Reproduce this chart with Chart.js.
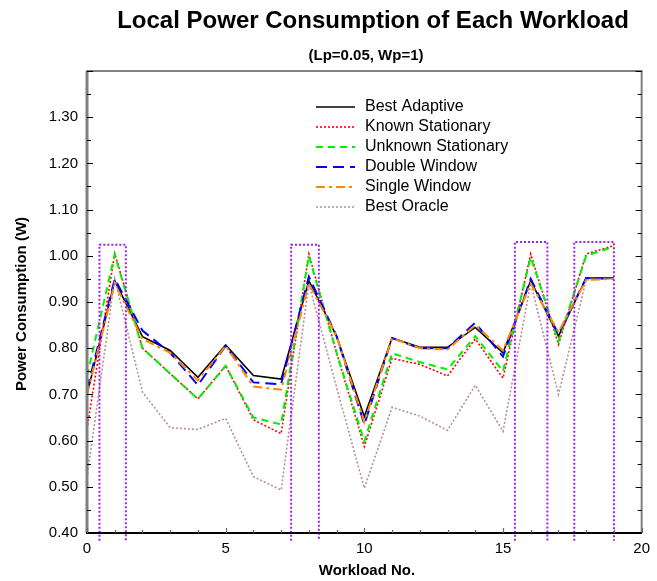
<!DOCTYPE html>
<html>
<head>
<meta charset="utf-8">
<script src="https://cdn.jsdelivr.net/npm/chart.js@4.4.0/dist/chart.umd.min.js"></script>
<style>
    body { margin: 0; background: #fff; }
</style>
</head>
<body>
<canvas id="grafico" width="657" height="581"></canvas>
<script>
// datos
var workloads = [0, 1, 2, 3, 4, 5, 6, 7, 8, 9, 10, 11, 12, 13, 14, 15, 16, 17, 18, 19];
var bestAdaptive = [0.70, 0.946, 0.825, 0.795, 0.737, 0.807, 0.741, 0.733, 0.946, 0.826, 0.652, 0.822, 0.802, 0.802, 0.845, 0.790, 0.946, 0.826, 0.952, 0.952];
var knownStationary = [0.625, 1.005, 0.800, 0.745, 0.690, 0.762, 0.645, 0.615, 1.004, 0.790, 0.587, 0.778, 0.765, 0.740, 0.820, 0.735, 1.004, 0.808, 1.004, 1.022];
var unknownStationary = [0.740, 1.003, 0.800, 0.745, 0.690, 0.762, 0.650, 0.635, 1.000, 0.790, 0.598, 0.789, 0.770, 0.754, 0.826, 0.750, 0.997, 0.815, 1.000, 1.020];
var doubleWindow = [0.710, 0.950, 0.838, 0.790, 0.720, 0.805, 0.726, 0.722, 0.955, 0.826, 0.635, 0.822, 0.800, 0.800, 0.855, 0.782, 0.950, 0.830, 0.952, 0.950];
var singleWindow = [0.700, 0.940, 0.820, 0.790, 0.730, 0.805, 0.717, 0.710, 0.940, 0.826, 0.640, 0.822, 0.800, 0.797, 0.850, 0.795, 0.940, 0.835, 0.948, 0.950];
var bestOracle = [0.520, 0.950, 0.705, 0.628, 0.624, 0.648, 0.522, 0.493, 0.940, 0.715, 0.497, 0.672, 0.653, 0.622, 0.720, 0.620, 0.940, 0.700, 0.948, 0.950];

// cajas punteadas (unidades del grafico)
var boxLeft = [0.45, 7.36, 15.43, 17.57];
var boxRight = [1.40, 8.36, 16.60, 19.00];
var boxTop = [1.024, 1.024, 1.030, 1.030];
var boxBottom = 0.383;

var yTicks = [0.40, 0.50, 0.60, 0.70, 0.80, 0.90, 1.00, 1.10, 1.20, 1.30];
var xTicks = [0, 5, 10, 15, 20];

function puntos(serie) {
    return workloads.map(function (w, i) { return { x: w, y: serie[i] }; });
}

var series = [
    { label: 'Best Adaptive', data: bestAdaptive, color: '#000000', dash: [], width: 1.6, order: 7 },
    { label: 'Known Stationary', data: knownStationary, color: '#ff0000', dash: [2, 2], width: 1.6, order: 6 },
    { label: 'Unknown Stationary', data: unknownStationary, color: '#00ee00', dash: [7, 5], width: 2, order: 5 },
    { label: 'Double Window', data: doubleWindow, color: '#0000ff', dash: [11, 6], width: 2, order: 4 },
    { label: 'Single Window', data: singleWindow, color: '#ff8800', dash: [9, 4, 3, 4], width: 2, order: 3 },
    { label: 'Best Oracle', data: bestOracle, color: '#bc8f8f', dash: [2, 2], width: 1.6, order: 2 }
];

var datasets = series.map(function (s) {
    return {
        label: s.label,
        data: puntos(s.data),
        borderColor: s.color,
        borderDash: s.dash,
        borderWidth: s.width,
        pointRadius: 0,
        tension: 0,
        fill: false,
        order: s.order,
        esSerie: true
    };
});

boxLeft.forEach(function (l, i) {
    datasets.push({
        label: 'box' + i,
        data: [
            { x: l, y: boxBottom },
            { x: l, y: boxTop[i] },
            { x: boxRight[i], y: boxTop[i] },
            { x: boxRight[i], y: boxBottom }
        ],
        borderColor: '#a020f0',
        borderDash: [2, 2],
        borderWidth: 2,
        pointRadius: 0,
        tension: 0,
        fill: false,
        clip: false,
        order: 1
    });
});

var decor = {
    id: 'decor',
    afterDraw: function (chart) {
        var ctx = chart.ctx;
        var a = chart.chartArea;
        var xs = chart.scales.x, ys = chart.scales.y;
        ctx.save();

        // marco
        ctx.setLineDash([]);
        ctx.strokeStyle = '#808080';
        ctx.lineWidth = 2;
        ctx.beginPath();
        ctx.moveTo(a.left, a.bottom);
        ctx.lineTo(a.left, a.top);
        ctx.lineTo(a.right, a.top);
        ctx.lineTo(a.right, a.bottom);
        ctx.stroke();
        ctx.lineWidth = 3;
        ctx.beginPath();
        ctx.moveTo(a.left, a.bottom);
        ctx.lineTo(a.left, a.top);
        ctx.stroke();
        ctx.strokeStyle = '#000';
        ctx.lineWidth = 2;
        ctx.beginPath();
        ctx.moveTo(a.left - 1, a.bottom);
        ctx.lineTo(a.right, a.bottom);
        ctx.stroke();

        // marcas hacia adentro
        ctx.lineWidth = 1.2;
        ctx.strokeStyle = '#000';
        for (var v = 0.40; v <= 1.401; v += 0.05) {
            var py = Math.round(ys.getPixelForValue(v)) + 0.5;
            var mayor = Math.abs(v * 10 - Math.round(v * 10)) < 0.01;
            var len = mayor ? 6 : 4;
            ctx.beginPath();
            ctx.moveTo(a.left, py); ctx.lineTo(a.left + len, py);
            ctx.moveTo(a.right, py); ctx.lineTo(a.right - len, py);
            ctx.stroke();
        }
        ctx.strokeStyle = '#666';
        for (var k = 0; k <= 20; k++) {
            var px = Math.round(xs.getPixelForValue(k)) + 0.5;
            var l2 = (k % 5 === 0) ? 5 : 3;
            ctx.beginPath();
            ctx.moveTo(px, a.bottom); ctx.lineTo(px, a.bottom - l2);
            ctx.stroke();
        }

        // titulos
        ctx.fillStyle = '#000';
        ctx.textAlign = 'center';
        ctx.textBaseline = 'middle';
        ctx.font = 'bold 24px "Liberation Sans", Arial, sans-serif';
        ctx.fillText('Local Power Consumption of Each Workload', 373, 21);
        ctx.font = 'bold 15px "Liberation Sans", Arial, sans-serif';
        ctx.fillText('(Lp=0.05, Wp=1)', 366, 56);
        ctx.font = 'bold 15px "Liberation Sans", Arial, sans-serif';
        ctx.fillText('Workload No.', 367, 571);
        ctx.save();
        ctx.translate(22, 304);
        ctx.rotate(-Math.PI / 2);
        ctx.fillText('Power Consumption (W)', 0, 0);
        ctx.restore();

        // leyenda
        ctx.font = '16px "Liberation Sans", Arial, sans-serif';
        ctx.textAlign = 'left';
        chart.data.datasets.forEach(function (d, i) {
            if (!d.esSerie) return;
            var y = 107 + i * 20;
            ctx.strokeStyle = d.borderColor;
            ctx.lineWidth = d.borderWidth;
            ctx.setLineDash(d.borderDash);
            ctx.beginPath();
            ctx.moveTo(316, y); ctx.lineTo(355, y);
            ctx.stroke();
            ctx.setLineDash([]);
            ctx.fillStyle = '#000';
            ctx.fillText(d.label, 365, y);
        });
        ctx.restore();
    }
};

var grafico = new Chart(document.getElementById('grafico'), {
    type: 'line',
    data: { datasets: datasets },
    options: {
        responsive: false,
        animation: false,
        devicePixelRatio: 1,
        layout: { padding: { top: 71, right: 10, left: 0, bottom: 0 } },
        plugins: {
            legend: { display: false },
            tooltip: { enabled: false }
        },
        scales: {
            x: {
                type: 'linear',
                min: 0,
                max: 20,
                afterFit: function (s) { s.height = 48; },
                afterBuildTicks: function (s) { s.ticks = xTicks.map(function (v) { return { value: v }; }); },
                grid: { display: false, drawTicks: false },
                border: { display: false },
                ticks: {
                    padding: 7,
                    maxRotation: 0,
                    color: '#000',
                    font: { family: '"Liberation Sans", Arial, sans-serif', size: 15 },
                    callback: function (v) { return String(v); }
                }
            },
            y: {
                type: 'linear',
                min: 0.4,
                max: 1.4,
                afterFit: function (s) { s.width = 87; },
                afterBuildTicks: function (s) { s.ticks = yTicks.map(function (v) { return { value: v }; }); },
                grid: { display: false, drawTicks: false },
                border: { display: false },
                ticks: {
                    padding: 9,
                    color: '#000',
                    font: { family: '"Liberation Sans", Arial, sans-serif', size: 15 },
                    callback: function (v) { return Number(v).toFixed(2); }
                }
            }
        }
    },
    plugins: [decor]
});
</script>
</body>
</html>
